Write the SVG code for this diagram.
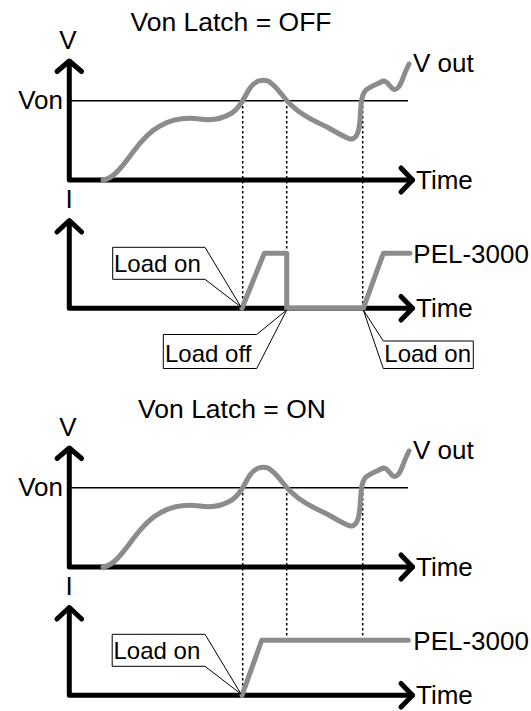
<svg xmlns="http://www.w3.org/2000/svg" xmlns:xlink="http://www.w3.org/1999/xlink" width="531" height="711" viewBox="0 0 531 711">
<style>
text{font-family:"Liberation Sans",Arial,sans-serif;fill:#000}
.lbl{font-size:26px}
.ttl{font-size:26.5px}
.co{font-size:24px}
.axis{fill:none;stroke:#000;stroke-width:5;stroke-linecap:round;stroke-linejoin:round}
.von{stroke:#000;stroke-width:1.5}
.dot{stroke:#000;stroke-width:1.5;stroke-dasharray:2.5,2.5}
.wave{fill:none;stroke:#8c8c8c;stroke-width:5;stroke-linecap:round;stroke-linejoin:round}
.call{fill:#fff;stroke:#000;stroke-width:1}
</style>
<defs>
<g id="vchart">
<line class="von" x1="69" y1="100.7" x2="408" y2="100.7"/>
<polyline class="axis" points="69.3,61.5 69.3,180 412.5,180"/>
<polyline class="axis" points="57,71.5 69.3,61 81.6,71.5"/>
<polyline class="axis" points="401,168 412.5,180 401,192"/>
<text class="lbl" x="68" y="49.3" text-anchor="middle">V</text>
<text class="lbl" x="63" y="109" text-anchor="end">Von</text>
<text class="lbl" x="416" y="188.5">Time</text>
<text class="lbl" x="413" y="71.7">V out</text>
<path class="wave" d="M103,180 C112,179 120,170 133,152 C142,140 150,131 160,126 C172,119 185,117 200,119 C212,121 222,119 232,113 C242,106 245,95 250,88 C255,81 262,79 268,81 C276,85 282,96 290,104 C300,114 312,120 327,127 C336,132 344,137 350,139 C356,140 359,133 360,120 C361,105 361,95 366,90 C371,86 378,84 383,81 C387,80 389,86 393,89 C397,91 400,86 403,78 C405,72 407,68 409,64"/>
</g>
</defs>

<g id="panel-off">
<text class="ttl" x="231" y="30.7" text-anchor="middle">Von Latch = OFF</text>
<g id="dots-off">
<line class="dot" x1="242.7" y1="101" x2="242.7" y2="308"/>
<line class="dot" x1="286.7" y1="101" x2="286.7" y2="253"/>
<line class="dot" x1="362.7" y1="101" x2="362.7" y2="308"/>
</g>
<g id="vchart-off"><use xlink:href="#vchart"/></g>
<g id="ichart-off">
<polyline class="axis" points="69.3,221 69.3,308.3 412.5,308.3"/>
<polyline class="axis" points="57,232 69.3,220.5 81.6,232"/>
<polyline class="axis" points="401,296.5 412.5,308.3 401,320"/>
<text class="lbl" x="69" y="208" text-anchor="middle">I</text>
<text class="lbl" x="416" y="316.7">Time</text>
<polyline class="wave" points="242,308.3 264.3,253.3 286.7,253.3 286.7,308.3 363.3,308.3 383.3,253.3 410,253.3"/>
<text class="lbl" x="413.3" y="262.7">PEL-3000</text>
</g>
<g id="callout-on-1">
<polygon class="call" points="112.7,247.3 205,247.3 241,307 205,279.3 112.7,279.3"/>
<text class="co" x="114" y="271.7">Load on</text>
</g>
<g id="callout-off">
<polygon class="call" points="163.3,334.5 256.7,334.5 286.7,310 256.7,368.5 163.3,368.5"/>
<text class="co" x="165" y="361.7">Load off</text>
</g>
<g id="callout-on-2">
<polygon class="call" points="363.3,310 383.3,341 473.3,341 473.3,368.5 383.3,368.5"/>
<text class="co" x="384.3" y="361.7">Load on</text>
</g>
</g>

<g id="panel-on">
<text class="ttl" x="232" y="418.3" text-anchor="middle">Von Latch = ON</text>
<g id="dots-on">
<line class="dot" x1="242.7" y1="488" x2="242.7" y2="695"/>
<line class="dot" x1="286.7" y1="488" x2="286.7" y2="640"/>
<line class="dot" x1="362.7" y1="488" x2="362.7" y2="640"/>
</g>
<g id="vchart-on"><use xlink:href="#vchart" transform="translate(0,387)"/></g>
<g id="ichart-on">
<polyline class="axis" points="69.3,608 69.3,695.3 412.5,695.3"/>
<polyline class="axis" points="57,619 69.3,607.5 81.6,619"/>
<polyline class="axis" points="401,683.5 412.5,695.3 401,707"/>
<text class="lbl" x="69" y="595" text-anchor="middle">I</text>
<text class="lbl" x="416" y="703.7">Time</text>
<polyline class="wave" points="242,695.3 261.7,640.3 408.3,640.3"/>
<text class="lbl" x="413.3" y="649.7">PEL-3000</text>
</g>
<g id="callout-on-3">
<polygon class="call" points="112.2,634.3 205,634.3 241,694 205,666.3 112.2,666.3"/>
<text class="co" x="113.5" y="658.5">Load on</text>
</g>
</g>
</svg>
